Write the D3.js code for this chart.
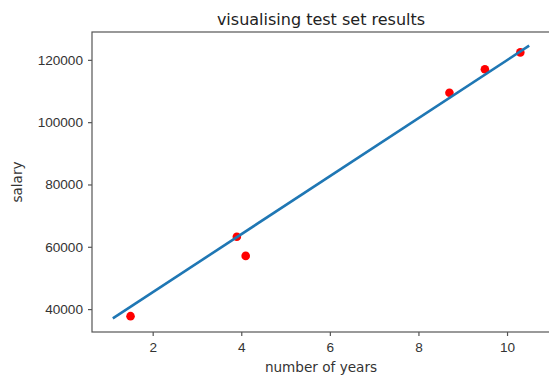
<!DOCTYPE html>
<html>
<head>
<meta charset="utf-8">
<script src="https://cdn.jsdelivr.net/npm/d3@7"></script>
<style>
  body { margin: 0; background: #fff; }
  svg { font-family: "DejaVu Sans", sans-serif; }
  .axis text { font-size: 13.6px; fill: #333; }
  .axis path, .axis line { stroke: #555; stroke-width: 1.2; }
</style>
</head>
<body>
<svg id="chart" width="549" height="379"></svg>
<script>
// test set (years of experience vs salary)
const testYears = [1.5, 10.3, 4.1, 3.9, 9.5, 8.7];
const testSalary = [37731, 122391, 57081, 63218, 116969, 109431];

// regression line
const lineYears = [1.1, 10.5];
const lineSalary = [37020, 124560];

const xTicks = [2, 4, 6, 8, 10];
const yTicks = [40000, 60000, 80000, 100000, 120000];

const margin = { top: 32, right: -1, bottom: 47, left: 92 };
const width = 549 - margin.left - margin.right;
const height = 379 - margin.top - margin.bottom;

const svg = d3.select('#chart');
const g = svg.append('g').attr('transform', `translate(${margin.left},${margin.top})`);

const x = d3.scaleLinear().domain([0.63, 10.97]).range([0, width]);
const y = d3.scaleLinear().domain([32650, 128940]).range([height, 0]);

// axes box
g.append('rect')
  .attr('width', width).attr('height', height)
  .attr('fill', 'none').attr('stroke', '#555').attr('stroke-width', 1.2);

g.append('g')
  .attr('class', 'axis')
  .attr('transform', `translate(0,${height})`)
  .call(d3.axisBottom(x).tickValues(xTicks).tickSize(4).tickPadding(6).tickFormat(d3.format('d')))
  .call(a => a.select('.domain').remove());

g.append('g')
  .attr('class', 'axis')
  .call(d3.axisLeft(y).tickValues(yTicks).tickSize(4).tickPadding(5).tickFormat(d3.format('d')))
  .call(a => a.select('.domain').remove());

// points
g.selectAll('circle')
  .data(testYears.map((d, i) => [d, testSalary[i]]))
  .enter().append('circle')
  .attr('cx', d => x(d[0]))
  .attr('cy', d => y(d[1]))
  .attr('r', 4.3)
  .attr('fill', '#ff0000');

// fitted line
const line = d3.line().x(d => x(d[0])).y(d => y(d[1]));
g.append('path')
  .datum(lineYears.map((d, i) => [d, lineSalary[i]]))
  .attr('d', line)
  .attr('fill', 'none')
  .attr('stroke', '#1f77b4')
  .attr('stroke-width', 2.6);

// labels
svg.append('text')
  .attr('x', margin.left + width / 2).attr('y', 25)
  .attr('text-anchor', 'middle')
  .attr('font-size', 16).attr('fill', '#222')
  .text('visualising test set results');

svg.append('text')
  .attr('x', margin.left + width / 2).attr('y', 372)
  .attr('text-anchor', 'middle')
  .attr('font-size', 13.6).attr('fill', '#333')
  .text('number of years');

svg.append('text')
  .attr('transform', `translate(22,${margin.top + height / 2}) rotate(-90)`)
  .attr('text-anchor', 'middle')
  .attr('font-size', 13.6).attr('fill', '#333')
  .text('salary');
</script>
</body>
</html>
